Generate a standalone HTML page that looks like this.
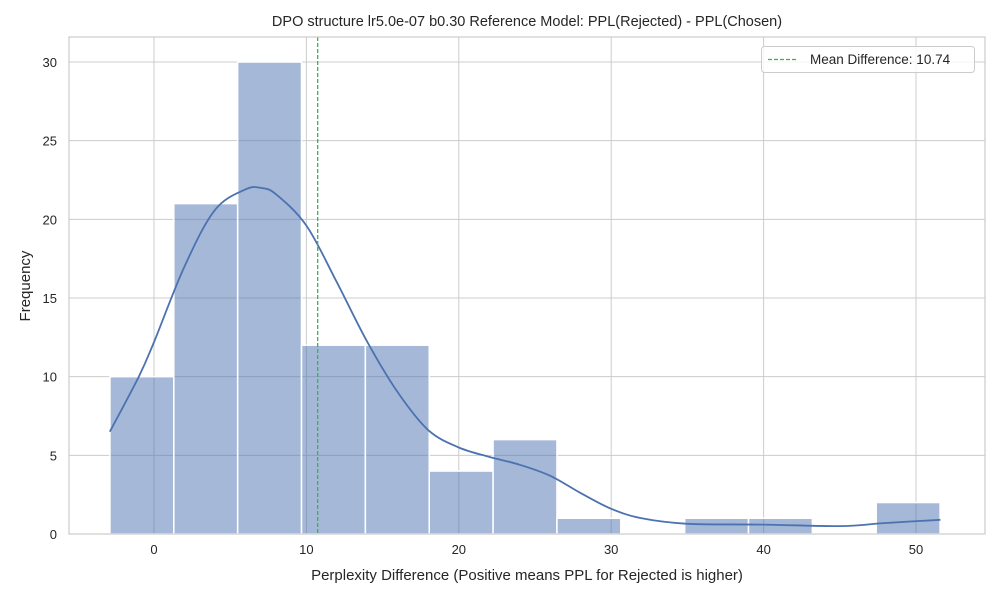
<!DOCTYPE html>
<html><head><meta charset="utf-8"><style>
body{margin:0;background:#fff;}
svg{display:block;font-family:"Liberation Sans","DejaVu Sans",sans-serif;}
</style></head><body>
<svg id="chart" width="1000" height="600" viewBox="0 0 1000 600"></svg>
<script>
const binStart = -2.89;
const binWidth = 4.19;
const counts = [10,21,30,12,12,4,6,1,0,1,1,0,2];
const kdeX = [-2.9,-1,0,2,4,6,7,8,10,12,14,16,18,20,22,24,26,28,30,32,35,40,45,48,51.6];
const kdeY = [6.5,10,12.2,17,20.6,21.9,22,21.6,19.6,16,12.2,9,6.6,5.5,4.9,4.4,3.7,2.6,1.6,1.0,0.65,0.6,0.5,0.7,0.9];
const meanDiff = 10.74;
const xTicks = [0,10,20,30,40,50];
const yTicks = [0,5,10,15,20,25,30];

const NS="http://www.w3.org/2000/svg";
const svg=document.getElementById('chart');
const L=69,R=985,T=37,B=534;
const X=v=>154+v*15.24;
const Y=v=>534-v*15.733;
function el(tag,attrs,parent){const e=document.createElementNS(NS,tag);for(const k in attrs)e.setAttribute(k,attrs[k]);(parent||svg).appendChild(e);return e;}

xTicks.forEach(t=>{
  const g=el('line',{x1:X(t),x2:X(t),y1:T,y2:B,stroke:'#cccccc','stroke-width':1});
  
  
  const tx=el('text',{x:X(t),y:B+20,'text-anchor':'middle','font-size':13,fill:'#262626'});
  tx.textContent=t;
  
  
});
yTicks.forEach(t=>{
  const g=el('line',{x1:L,x2:R,y1:Y(t),y2:Y(t),stroke:'#cccccc','stroke-width':1});
  
  
  const tx=el('text',{x:L-12,y:Y(t)+5,'text-anchor':'end','font-size':13,fill:'#262626'});
  tx.textContent=t;
  
  
});
counts.forEach((c,i)=>{
  const x0=X(binStart+i*binWidth),x1=X(binStart+(i+1)*binWidth);
  if(c<=0)return;
  const b=el('rect',{x:x0,y:Y(c),width:x1-x0,height:Y(0)-Y(c),fill:'rgba(76,114,176,0.5)',stroke:'#fff','stroke-width':1.5});
  
  
});
// smooth kde (Catmull-Rom)
const P=kdeX.map((x,i)=>[X(x),Y(kdeY[i])]);
let d='M'+P[0][0].toFixed(1)+','+P[0][1].toFixed(1);
for(let i=0;i<P.length-1;i++){
  const p0=P[Math.max(i-1,0)],p1=P[i],p2=P[i+1],p3=P[Math.min(i+2,P.length-1)];
  const c1=[p1[0]+(p2[0]-p0[0])/6,p1[1]+(p2[1]-p0[1])/6];
  const c2=[p2[0]-(p3[0]-p1[0])/6,p2[1]-(p3[1]-p1[1])/6];
  d+='C'+c1.map(v=>v.toFixed(1)).join(',')+' '+c2.map(v=>v.toFixed(1)).join(',')+' '+p2.map(v=>v.toFixed(1)).join(',');
}
const kp=el('path',{d:d,fill:'none',stroke:'#4c72b0','stroke-width':1.8,'stroke-linejoin':'round'});


const ml=el('line',{x1:X(meanDiff),x2:X(meanDiff),y1:T,y2:B,stroke:'#3fae5a','stroke-width':1.3,'stroke-dasharray':'4,2'});


const fr=el('rect',{x:L,y:T,width:R-L,height:B-T,fill:'none',stroke:'#cccccc','stroke-width':1.2});


</script>
<svg style="position:absolute;left:0;top:0" width="1000" height="600">
<text x="527" y="26" text-anchor="middle" font-size="14.5" fill="#262626">DPO structure lr5.0e-07 b0.30 Reference Model: PPL(Rejected) - PPL(Chosen)</text>
<text x="527" y="580" text-anchor="middle" font-size="15" fill="#262626">Perplexity Difference (Positive means PPL for Rejected is higher)</text>
<text transform="translate(30,286) rotate(-90)" text-anchor="middle" font-size="15" fill="#262626">Frequency</text>
<g>
<rect x="761.5" y="46.5" width="213" height="26" rx="3" fill="#fff" fill-opacity="0.8" stroke="#cccccc"/>
<line x1="768" x2="797" y1="59.5" y2="59.5" stroke="#3fae5a" stroke-width="1.3" stroke-dasharray="4,2"/>
<text x="810" y="64" font-size="13.5" fill="#262626">Mean Difference: 10.74</text>
</g>
</svg>
</body></html>
